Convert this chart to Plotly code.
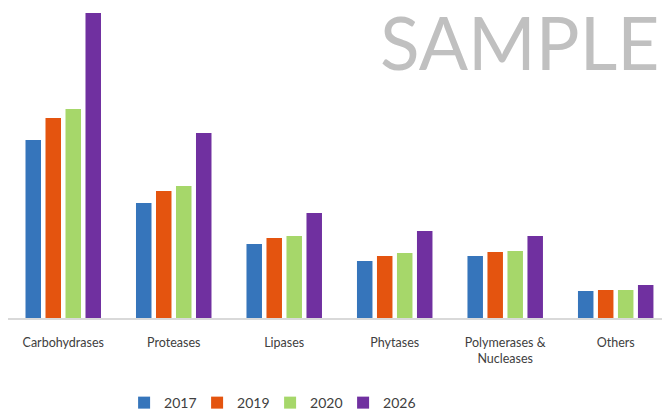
import plotly.graph_objects as go

categories = ["Carbohydrases", "Proteases", "Lipases", "Phytases", "Polymerases &<br>Nucleases", "Others"]
series_names = ["2017", "2019", "2020", "2026"]
v2017 = [1.78, 1.15, 0.74, 0.57, 0.62, 0.27]
v2019 = [2.00, 1.27, 0.80, 0.62, 0.66, 0.28]
v2020 = [2.09, 1.32, 0.82, 0.65, 0.67, 0.28]
v2026 = [3.05, 1.85, 1.05, 0.87, 0.82, 0.33]
colors = ["#3675bb", "#e4540f", "#a6d76a", "#7030a0"]

values = [v2017, v2019, v2020, v2026]
x = list(range(len(categories)))

fig = go.Figure()
for name, vals, col in zip(series_names, values, colors):
    fig.add_trace(go.Bar(x=x, y=vals, name=name, marker=dict(color=col, line=dict(width=0))))

fig.update_layout(
    width=662, height=410,
    margin=dict(l=8, r=0, t=0, b=92, autoexpand=False),
    paper_bgcolor="white", plot_bgcolor="white",
    barmode="group", bargap=0.276, bargroupgap=0.225,
    font=dict(family="Lato", color="#404040", size=12.5),
    showlegend=True,
    legend=dict(orientation="h", xref="container", yref="container",
                x=0.408, xanchor="center", y=0.017, yanchor="middle",
                entrywidth=28, entrywidthmode="pixels",
                font=dict(size=14, color="#404040"), traceorder="normal"),
    xaxis=dict(range=[-0.5, 5.419], tickmode="array", tickvals=x, ticktext=categories,
               showline=True, linecolor="#d9d9d9", linewidth=1.5, showgrid=False,
               zeroline=False, ticks="", ticklabelstandoff=12, tickfont=dict(size=12.5)),
    yaxis=dict(range=[0, 3.18], visible=False, showgrid=False, zeroline=False),
    annotations=[dict(text="SAMPLE", xref="paper", yref="paper", x=(378-8)/654, y=(318-42)/318,
                      xanchor="left", yanchor="middle", showarrow=False,
                      font=dict(family="Lato", size=73, color="#c0c0c0"))],
)

# remove the browser's default body margin so the figure fills the window
fig.write_html("out.html", config={"displayModeBar": False},
               post_script="document.body.style.margin='0';")
